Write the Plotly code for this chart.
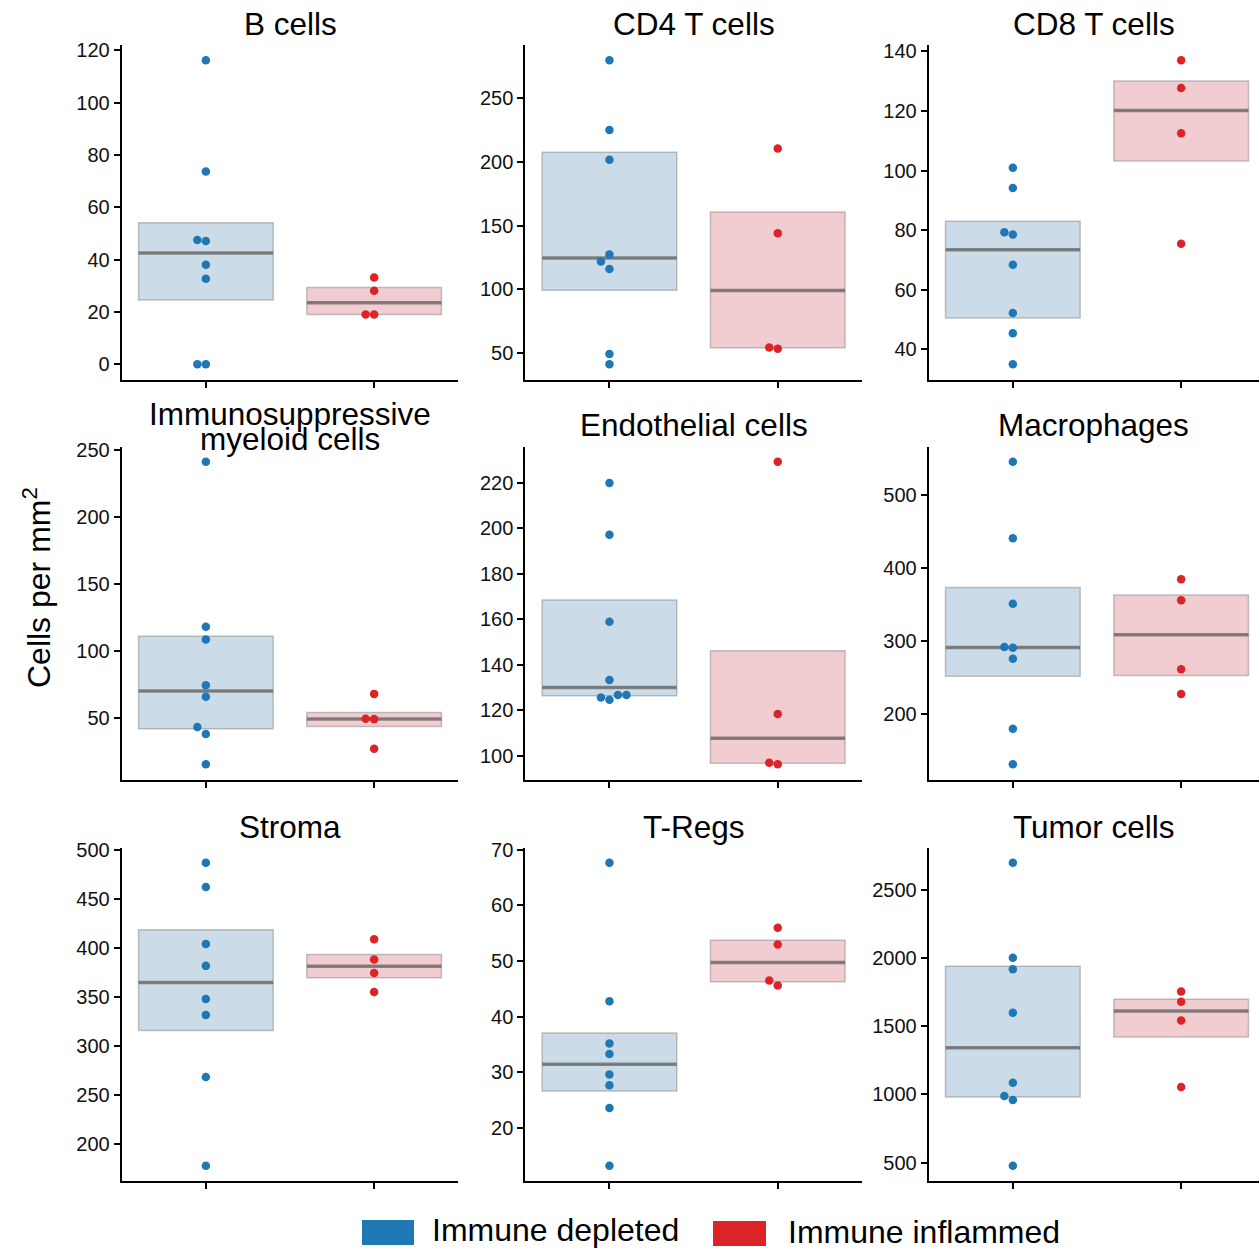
import numpy as np
import plotly.graph_objects as go

# ---------------- data ----------------
panel_titles = ["B cells", "CD4 T cells", "CD8 T cells",
                "Immunosuppressive<br>myeloid cells", "Endothelial cells", "Macrophages",
                "Stroma", "T-Regs", "Tumor cells"]
group_names = ["Immune depleted", "Immune inflammed"]

b_cells_depleted = [116.2, 73.7, 47.5, 47.1, 38.0, 32.7, 0.0, 0.0]
b_cells_inflamed = [33.2, 28.1, 19.0, 19.0]
cd4_depleted = [279.9, 225.1, 201.7, 127.4, 121.9, 115.9, 49.2, 41.1]
cd4_inflamed = [210.6, 144.0, 54.2, 53.4]
cd8_depleted = [100.9, 94.1, 79.3, 78.5, 68.4, 52.2, 45.4, 35.0]
cd8_inflamed = [137.0, 127.7, 112.5, 75.4]
myeloid_depleted = [241.3, 118.3, 108.9, 74.8, 66.1, 43.6, 38.4, 15.8]
myeloid_inflamed = [68.3, 49.8, 49.5, 27.5]
endothelial_depleted = [220.0, 197.2, 158.9, 133.3, 126.7, 126.7, 125.6, 124.6]
endothelial_inflamed = [229.4, 118.4, 96.9, 96.2]
macrophages_depleted = [545.5, 440.4, 350.7, 291.5, 290.6, 275.6, 179.5, 130.8]
macrophages_inflamed = [384.4, 355.7, 261.0, 227.3]
stroma_depleted = [487.4, 462.5, 404.3, 381.8, 347.8, 331.5, 268.1, 177.2]
stroma_inflamed = [409.1, 388.3, 374.4, 355.0]
tregs_depleted = [67.7, 42.8, 35.2, 33.3, 29.6, 27.7, 23.6, 13.2]
tregs_inflamed = [56.0, 53.0, 46.5, 45.6]
tumor_depleted = [2702.9, 2003.7, 1920.5, 1600.2, 1086.8, 989.0, 959.7, 475.6]
tumor_inflamed = [1756.7, 1680.9, 1544.0, 1055.0]

ticks_b_cells = [0, 20, 40, 60, 80, 100, 120]
ticks_cd4 = [50, 100, 150, 200, 250]
ticks_cd8 = [40, 60, 80, 100, 120, 140]
ticks_myeloid = [50, 100, 150, 200, 250]
ticks_endothelial = [100, 120, 140, 160, 180, 200, 220]
ticks_macrophages = [200, 300, 400, 500]
ticks_stroma = [200, 250, 300, 350, 400, 450, 500]
ticks_tregs = [20, 30, 40, 50, 60, 70]
ticks_tumor = [500, 1000, 1500, 2000, 2500]

panel_data = [
    (b_cells_depleted, b_cells_inflamed, ticks_b_cells),
    (cd4_depleted, cd4_inflamed, ticks_cd4),
    (cd8_depleted, cd8_inflamed, ticks_cd8),
    (myeloid_depleted, myeloid_inflamed, ticks_myeloid),
    (endothelial_depleted, endothelial_inflamed, ticks_endothelial),
    (macrophages_depleted, macrophages_inflamed, ticks_macrophages),
    (stroma_depleted, stroma_inflamed, ticks_stroma),
    (tregs_depleted, tregs_inflamed, ticks_tregs),
    (tumor_depleted, tumor_inflamed, ticks_tumor),
]

# ---------------- style ----------------
W, H = 1259, 1249
FONT = "Liberation Sans, Arial, Helvetica, sans-serif"
point_colors = ["#1f77b4", "#dc2327"]
box_fills = ["#cbdbe7", "#f1cdd1"]
box_line = "rgba(110,110,110,0.40)"
median_line = "rgba(95,95,95,0.70)"

col_px = [(121.7, 458.3), (525.3, 861.9), (928.7, 1259.0)]
row_px = [(45.0, 379.5), (446.5, 779.5), (847.5, 1181.0)]
px_per_xunit = (col_px[0][1] - col_px[0][0]) / 2.0
DOT = 8.5  # px spacing for swarm


def swarm_offsets(values, px_y, px_x, d=DOT):
    order = np.argsort(values, kind="stable")
    placed = []
    xs = [0.0] * len(values)
    for i in order:
        y = values[i] * px_y
        x = 0.0
        for k in [0, -1, 1, 2, -2, -3, 3]:
            x = k * d
            if all((x - a) ** 2 + (y - b) ** 2 >= d * d - 1e-9 for a, b in placed):
                break
        placed.append((x, y))
        xs[i] = x / px_x
    return xs


fig = go.Figure()
annotations = []

for p, (dep, inf, ticks) in enumerate(panel_data):
    r, c = divmod(p, 3)
    ax = "" if p == 0 else str(p + 1)
    xref, yref = "x" + ax, "y" + ax
    x0p, x1p = col_px[c]
    y0p, y1p = row_px[r]
    allv = np.array(dep + inf, dtype=float)
    span = allv.max() - allv.min()
    yr = [allv.min() - 0.05 * span, allv.max() + 0.05 * span]
    xr = [-0.5, -0.5 + (x1p - x0p) / px_per_xunit]
    px_y = (y1p - y0p) / (yr[1] - yr[0])

    for g, vals in enumerate([dep, inf]):
        v = np.array(vals, dtype=float)
        q1, med, q3 = np.percentile(v, [25, 50, 75])
        fig.add_trace(go.Box(
            x=[g], q1=[q1], median=[med], q3=[q3], lowerfence=[q1], upperfence=[q3],
            width=0.8, whiskerwidth=0, fillcolor=box_fills[g],
            line=dict(color=box_line, width=1.5), boxpoints=False,
            xaxis=xref, yaxis=yref, showlegend=False, hoverinfo="skip"))
        fig.add_trace(go.Scatter(
            x=[g - 0.4, g + 0.4], y=[med, med], mode="lines",
            line=dict(color=median_line, width=3.5),
            xaxis=xref, yaxis=yref, showlegend=False, hoverinfo="skip"))
        offs = swarm_offsets(list(v), px_y, px_per_xunit)
        fig.add_trace(go.Scatter(
            x=[g + o for o in offs], y=list(v), mode="markers",
            marker=dict(color=point_colors[g], size=DOT, line=dict(width=0)),
            xaxis=xref, yaxis=yref, showlegend=False))

    axis_common = dict(showline=True, linecolor="black", linewidth=2,
                       ticks="outside", ticklen=6, tickwidth=1.5, tickcolor="black",
                       showgrid=False, zeroline=False,
                       tickfont=dict(family=FONT, size=20, color="#111"))
    fig.layout["xaxis" + ax] = dict(
        domain=[x0p / W, x1p / W], range=xr, anchor=yref,
        tickvals=[0, 1], ticktext=["", ""], **axis_common)
    fig.layout["yaxis" + ax] = dict(
        domain=[1 - y1p / H, 1 - y0p / H], range=yr, anchor=xref,
        tickvals=ticks, **axis_common)

    # title
    cx = (x0p + x1p) / 2 / W
    lines = panel_titles[p].split("<br>")
    gap = 21 if len(lines) == 1 else 7
    for li, txt in enumerate(lines):
        cy = y0p - gap - (len(lines) - 1 - li) * 25
        annotations.append(dict(
            text=txt, x=cx, y=1 - cy / H, xref="paper", yref="paper",
            xanchor="center", yanchor="middle", showarrow=False,
            font=dict(family=FONT, size=31.5, color="black")))

# y axis title
annotations.append(dict(
    text="Cells per mm<sup>2</sup>", x=37 / W, y=1 - 588 / H, xref="paper", yref="paper",
    xanchor="center", yanchor="middle", textangle=-90, showarrow=False,
    font=dict(family=FONT, size=32, color="black")))

# legend (drawn as keys + labels)
legend_keys = [(362, 414, 1220, 1245), (713, 766, 1221, 1246)]
legend_text_x = [430, 786]
legend_text_y = [1230, 1232]
shapes = []
for g in range(2):
    lx0, lx1, ly0, ly1 = legend_keys[g]
    shapes.append(dict(type="rect", xref="paper", yref="paper",
                       x0=lx0 / W, x1=lx1 / W, y0=1 - ly1 / H, y1=1 - ly0 / H,
                       fillcolor=point_colors[g], line=dict(width=0)))
    annotations.append(dict(
        text=group_names[g], x=legend_text_x[g] / W, y=1 - legend_text_y[g] / H,
        xref="paper", yref="paper", xanchor="left", yanchor="middle", showarrow=False,
        font=dict(family=FONT, size=32, color="black")))

fig.update_layout(
    width=W, height=H, margin=dict(l=0, r=0, t=0, b=0, autoexpand=False),
    paper_bgcolor="white", plot_bgcolor="white",
    annotations=annotations, shapes=shapes, showlegend=False,
    font=dict(family=FONT))

fig.write_html("out.html", config={"displayModeBar": False},
               post_script="document.body.style.margin='0px';")
